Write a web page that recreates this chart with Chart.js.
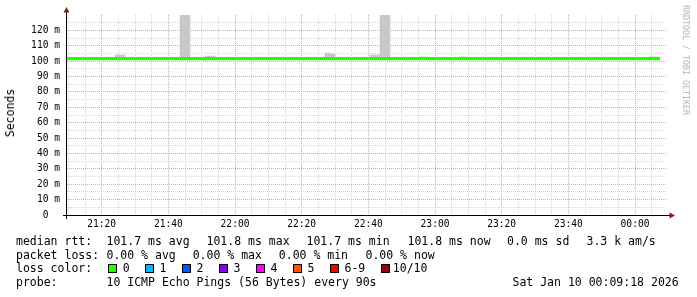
<!DOCTYPE html>
<html><head><meta charset="utf-8">
<script src="https://cdn.jsdelivr.net/npm/chart.js@4"></script>
<style>
html,body{margin:0;padding:0;background:#fff;}
#wrap{position:relative;width:697px;height:297px;overflow:hidden;background:#fff;}
canvas{position:absolute;left:0;top:0;}
.t{position:absolute;font-family:"DejaVu Sans Mono",monospace;font-size:11.5px;line-height:14px;height:14px;white-space:pre;color:#000;}
.box{position:absolute;width:7px;height:7px;border:1px solid #000;}
#ylab{position:absolute;left:10px;top:113px;font-family:"DejaVu Sans Mono",monospace;font-size:11.5px;line-height:14px;white-space:pre;transform:translate(-50%,-50%) rotate(-90deg);}
#wm{position:absolute;left:686px;top:60px;font-family:"DejaVu Sans Mono",monospace;font-size:8.3px;line-height:10px;white-space:pre;color:#b4b4b4;transform:translate(-50%,-50%) rotate(90deg);}
</style></head><body>
<div id="wrap"><canvas id="c" width="697" height="297"></canvas></div>
<script>
// ---- data (minutes after 21:00) ----
const sampleFirstEnd = 9.0;
const sampleStep = 1.5;
const medianRtt = [
101.7,101.7,101.7,101.7,101.7,101.7,101.7,101.7,101.7,101.7,
101.7,101.7,101.7,101.7,101.7,101.7,101.7,101.7,101.7,101.7,
101.7,101.7,101.7,101.7,101.7,101.7,101.7,101.7,101.7,101.7,
101.7,101.7,101.7,101.7,101.7,101.7,101.7,101.7,101.7,101.7,
101.7,101.7,101.7,101.7,101.7,101.7,101.7,101.7,101.7,101.7,
101.7,101.7,101.7,101.7,101.7,101.7,101.7,101.7,101.7,101.7,
101.7,101.7,101.7,101.7,101.7,101.7,101.7,101.7,101.7,101.7,
101.7,101.7,101.8,101.7,101.7,101.7,101.7,101.7,101.7,101.7,
101.8,101.7,101.7,101.7,101.7,101.7,101.7,101.7,101.7,101.7,
101.7,101.7,101.7,101.7,101.7,101.7,101.7,101.7,101.7,101.7,
101.7,101.7,101.7,101.7,101.7,101.7,101.7,101.7,101.7,101.7,
101.7,101.7,101.7,101.7,101.7,101.7,101.7,101.7,101.8,101.7
];
const smokeStart = [24, 25.5, 43.5, 45, 51, 52.5, 87, 88.5, 100.5, 102, 103.5, 105];
const smokeTop   = [104.0, 104.0, 130, 130, 103.3, 103.3, 105.3, 104.6, 104.0, 104.0, 130, 130];
const xTickValues = [20, 40, 60, 80, 100, 120, 140, 160, 180];
const xTickLabels = ['21:20','21:40','22:00','22:20','22:40','23:00','23:20','23:40','00:00'];
const yTickValues = [0,10,20,30,40,50,60,70,80,90,100,110,120];
const yTickLabels = ['0  ','10 m','20 m','30 m','40 m','50 m','60 m','70 m','80 m','90 m','100 m','110 m','120 m'];
const lossLabels = ['0','1','2','3','4','5','6-9','10/10'];
const lossColors = ['#26ff00','#00b8ff','#0059ff','#7e00ff','#ff00ff','#ff5500','#ff0000','#a00000'];
const rttStats = ['101.7 ms avg','101.8 ms max','101.7 ms min','101.8 ms now','0.0 ms sd','3.3 k am/s'];
const lossStats = ['0.00 % avg','0.00 % max','0.00 % min','0.00 % now'];
const probeText = '10 ICMP Echo Pings (56 Bytes) every 90s';
const stampText = 'Sat Jan 10 00:09:18 2026';

// ---- legend / text (HTML) ----
const wrap = document.getElementById('wrap');
function txt(s, x, y, cls) { const d = document.createElement('div'); d.className = cls || 't'; d.textContent = s; d.style.left = x + 'px'; d.style.top = y + 'px'; wrap.appendChild(d); return d; }
const rowTop = [234.3, 247.7, 261.3, 275];
txt('median rtt:', 16, rowTop[0]);
[106.5, 206.5, 306.5, 407.5, 507, 586.5].forEach((x, i) => txt(rttStats[i], x, rowTop[0]));
txt('packet loss:', 16, rowTop[1]);
[106.5, 192.7, 278.8, 365.5].forEach((x, i) => txt(lossStats[i], x, rowTop[1]));
txt('loss color:', 16, rowTop[2]);
const boxX = [108, 145, 182, 219, 256, 293, 330, 381];
const labX = [122.7, 159.4, 196.6, 233.6, 270.6, 307.6, 344.5, 392.8];
lossLabels.forEach((l, i) => {
  const b = document.createElement('div'); b.className = 'box';
  b.style.left = boxX[i] + 'px'; b.style.top = '263.5px'; b.style.background = lossColors[i];
  wrap.appendChild(b);
  txt(l, labX[i], rowTop[2]);
});
txt('probe:', 16, rowTop[3]);
txt(probeText, 106.5, rowTop[3]);
txt(stampText, 512.5, rowTop[3]);
const yl = document.createElement('div'); yl.id = 'ylab'; yl.textContent = 'Seconds'; wrap.appendChild(yl);
const wm = document.createElement('div'); wm.id = 'wm'; wm.textContent = 'RRDTOOL / TOBI OETIKER'; wrap.appendChild(wm);

// ---- chart ----
const linePts = medianRtt.map((v, i) => ({ x: sampleFirstEnd + i * sampleStep, y: v }));
const smokePts = smokeStart.map((s, k) => {
  const idx = Math.round((s + sampleStep - sampleFirstEnd) / sampleStep);
  return { x: s + sampleStep / 2, y: [medianRtt[idx], smokeTop[k]] };
});

const axesPlugin = {
  id: 'rrdAxes',
  afterDraw(chart) {
    const { ctx, chartArea: a } = chart;
    ctx.save();
    ctx.strokeStyle = '#000'; ctx.lineWidth = 1;
    ctx.beginPath();
    ctx.moveTo(a.left - 0.5, 219); ctx.lineTo(a.left - 0.5, 11);
    ctx.moveTo(a.left - 4, a.bottom + 0.5); ctx.lineTo(a.right + 3, a.bottom + 0.5);
    ctx.stroke();
    ctx.fillStyle = '#8b1a1a';
    ctx.beginPath();
    ctx.moveTo(a.left - 0.5, 7); ctx.lineTo(a.left - 3.5, 12.5); ctx.lineTo(a.left + 2.5, 12.5); ctx.closePath(); ctx.fill();
    ctx.beginPath();
    ctx.moveTo(a.right + 8, a.bottom + 0.5); ctx.lineTo(a.right + 2.5, a.bottom - 2.5); ctx.lineTo(a.right + 2.5, a.bottom + 3.5); ctx.closePath(); ctx.fill();
    ctx.restore();
  }
};

const majorX = '#e6a3a3', minorX = '#d6d6d6';
new Chart(document.getElementById('c'), {
  type: 'bar',
  data: {
    datasets: [
      { type: 'line', data: linePts, borderColor: '#22ff00', borderWidth: 3.2, pointRadius: 0, stepped: 'after', fill: false, order: 0, clip: 0, borderCapStyle: 'butt', borderJoinStyle: 'miter' },
      { type: 'bar', data: smokePts, backgroundColor: '#c8c8c8', borderWidth: 0, barPercentage: 1, categoryPercentage: 1, order: 1 }
    ]
  },
  options: {
    responsive: false, animation: false, events: [],
    layout: { padding: { top: 15, right: 30, left: 0, bottom: 0 } },
    plugins: { legend: { display: false }, tooltip: { enabled: false } },
    scales: {
      x: {
        type: 'linear', min: 9.59, max: 189.59, offset: false,
        afterFit: (s) => { s.height = 82; },
        afterBuildTicks: (s) => {
          const t = [];
          for (let v = Math.ceil(s.min / 5) * 5; v < s.max; v += 5) t.push({ value: v });
          s.ticks = t;
        },
        grid: { offset: false, drawTicks: false, lineWidth: 1,
          color: (c) => (c.tick && xTickValues.includes(c.tick.value)) ? majorX : minorX },
        border: { display: false, dash: [1, 1] },
        ticks: { autoSkip: false, maxRotation: 0, padding: 4, color: '#000',
          font: { family: 'DejaVu Sans Mono', size: 9.6 },
          callback: (v) => { const i = xTickValues.indexOf(v); return i >= 0 ? xTickLabels[i] : ''; } }
      },
      y: {
        type: 'linear', min: 0, max: 130,
        afterFit: (s) => { s.width = 67; },
        grid: { drawTicks: false, lineWidth: 1,
          color: (c) => { const v = c.tick ? c.tick.value : -1; if (v <= 0 || v >= 130) return 'rgba(0,0,0,0)'; return yTickValues.includes(v) ? majorX : minorX; } },
        border: { display: false, dash: [1, 1] },
        ticks: { stepSize: 5, autoSkip: false, padding: 7, color: '#000',
          font: { family: 'DejaVu Sans Mono', size: 9.6 },
          callback: (v) => { const i = yTickValues.indexOf(v); return i >= 0 ? yTickLabels[i] : ''; } }
      }
    }
  },
  plugins: [axesPlugin]
});
</script>
</body></html>
